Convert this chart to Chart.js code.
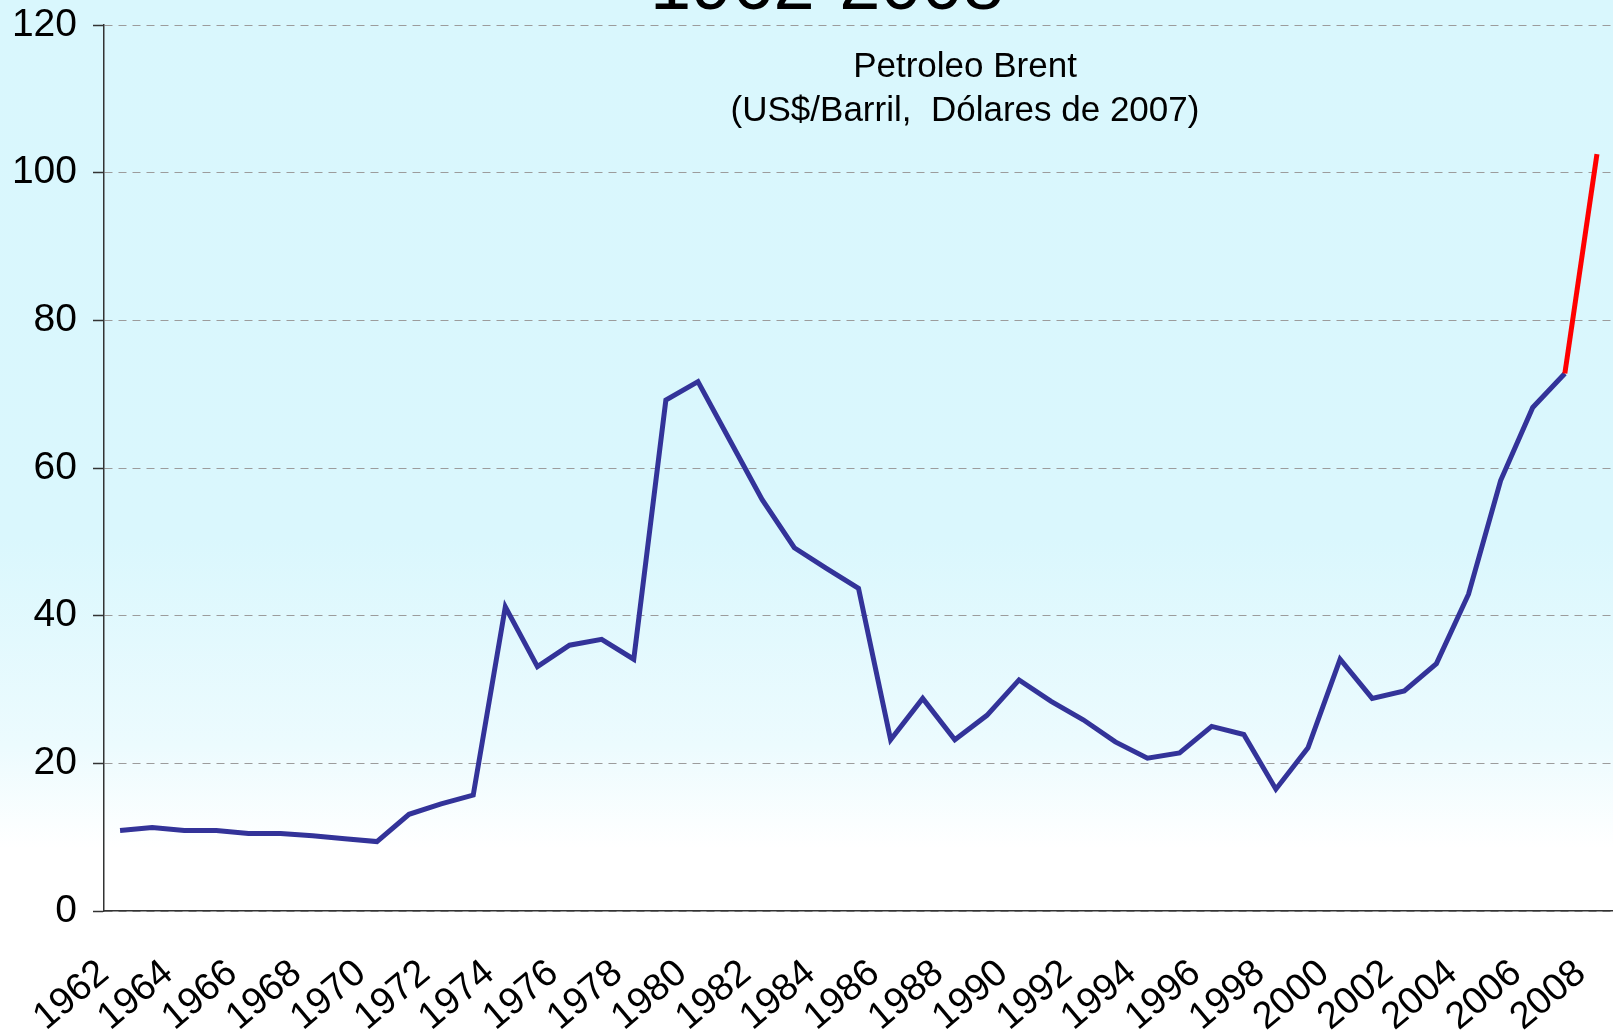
<!DOCTYPE html>
<html>
<head>
<meta charset="utf-8">
<script src="https://cdn.jsdelivr.net/npm/chart.js@4.4.0/dist/chart.umd.min.js"></script>
<style>
html, body { margin: 0; padding: 0; }
body {
    width: 1613px; height: 1034px; overflow: hidden;
    background: linear-gradient(to bottom, #d9f7fd 0%, #daf7fd 52%, #ecfbfe 72%, #ffffff 82%, #ffffff 100%);
}
</style>
</head>
<body>
<canvas id="brentChart" width="1613" height="1034"></canvas>
<script>
const years = ['1962', '1963', '1964', '1965', '1966', '1967', '1968', '1969', '1970', '1971',
    '1972', '1973', '1974', '1975', '1976', '1977', '1978', '1979', '1980', '1981',
    '1982', '1983', '1984', '1985', '1986', '1987', '1988', '1989', '1990', '1991',
    '1992', '1993', '1994', '1995', '1996', '1997', '1998', '1999', '2000', '2001',
    '2002', '2003', '2004', '2005', '2006', '2007', '2008'];
const brentPrice = [10.9, 11.3, 10.9, 10.9, 10.5, 10.5, 10.2, 9.8, 9.4, 13.1,
    14.5, 15.7, 41.2, 33.1, 36.0, 36.8, 34.1, 69.2, 71.7, 63.7,
    55.7, 49.2, 46.4, 43.7, 23.2, 28.8, 23.2, 26.5, 31.3, 28.4,
    25.9, 22.9, 20.7, 21.4, 25.0, 23.9, 16.5, 22.1, 34.1, 28.8,
    29.8, 33.5, 42.9, 58.3, 68.2, 72.8, 102.5];
const shownYears = ['1962', '1964', '1966', '1968', '1970', '1972', '1974', '1976', '1978', '1980',
    '1982', '1984', '1986', '1988', '1990', '1992', '1994', '1996', '1998', '2000',
    '2002', '2004', '2006', '2008'];
const yTicks = [0, 20, 40, 60, 80, 100, 120];
const lastYear = '2008';   // segment ending here is drawn in red

const titleTop = '1962-2008';
const subTitle = ['Petroleo Brent', '(US$/Barril,  Dólares de 2007)'];

// texts painted over the plot
const overlayText = {
    id: 'overlayText',
    afterDraw(chart) {
        const ctx = chart.ctx;
        ctx.save();
        ctx.fillStyle = '#000';
        ctx.textAlign = 'center';
        ctx.textBaseline = 'alphabetic';
        ctx.font = '74px "Liberation Sans", Arial, sans-serif';
        ctx.fillText(titleTop, 827, 9);
        ctx.font = '35px "Liberation Sans", Arial, sans-serif';
        ctx.textBaseline = 'middle';
        ctx.fillText(subTitle[0], 965, 67);
        ctx.fillText(subTitle[1], 965, 111);
        ctx.restore();
    }
};

const redIndex = years.indexOf(lastYear);

new Chart(document.getElementById('brentChart'), {
    type: 'line',
    data: {
        labels: years,
        datasets: [{
            data: brentPrice,
            borderColor: '#333399',
            borderWidth: 5,
            pointRadius: 0,
            tension: 0,
            segment: {
                borderColor: ctx => ctx.p1DataIndex === redIndex ? '#ff0000' : undefined
            }
        }]
    },
    options: {
        responsive: false,
        devicePixelRatio: 1,
        animation: false,
        layout: { padding: 0 },
        plugins: {
            legend: { display: false },
            tooltip: { enabled: false }
        },
        scales: {
            x: {
                offset: true,
                grid: { display: false },
                border: { display: true, color: '#333', width: 1.5 },
                ticks: {
                    autoSkip: false,
                    minRotation: 40,
                    maxRotation: 40,
                    padding: 32,
                    labelOffset: -16,
                    color: '#000',
                    font: { family: '"Liberation Sans", Arial, sans-serif', size: 38 },
                    callback: function (val) {
                        const lbl = this.getLabelForValue(val);
                        return shownYears.includes(lbl) ? lbl : '';
                    }
                },
                afterFit: s => {
                    s.height = 123;
                    s.paddingLeft = 0;
                    s.paddingRight = 0;
                }
            },
            y: {
                min: 0,
                max: 120,
                afterBuildTicks: s => { s.ticks = yTicks.map(v => ({ value: v })); },
                grid: {
                    color: '#9c9c9c',
                    lineWidth: 1,
                    tickColor: '#333',
                    tickLength: 11,
                    tickWidth: 1.5
                },
                border: { display: true, color: '#333', width: 1.5, dash: [8, 6] },
                ticks: {
                    padding: 16,
                    color: '#000',
                    font: { family: '"Liberation Sans", Arial, sans-serif', size: 39 }
                },
                afterFit: s => {
                    s.width = 104;
                    s.paddingTop = 25;
                    s.paddingBottom = 0;
                }
            }
        }
    },
    plugins: [overlayText]
});
</script>
</body>
</html>
